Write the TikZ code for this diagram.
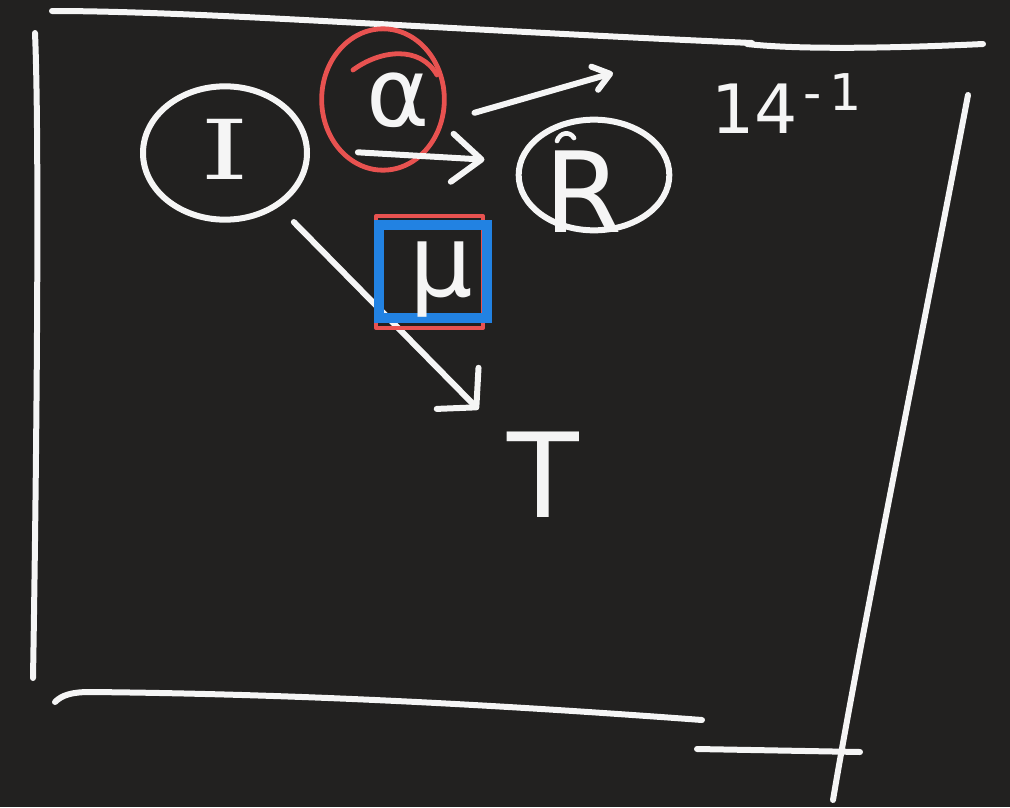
\documentclass[tikz,border=0pt]{standalone}
\usepackage{graphicx}
\usepackage{fontspec}
\setmainfont{DejaVu Sans}
\newfontfamily\serifhand{DejaVu Serif}
\usetikzlibrary{shapes.geometric,arrows.meta}
\definecolor{bg}{RGB}{34,33,32}
\definecolor{chalk}{RGB}{245,245,245}
\definecolor{penred}{RGB}{232,82,80}
\definecolor{penblue}{RGB}{34,130,226}
\newcommand\shifted[3]{\raisebox{#2}[0pt][0pt]{\makebox[0pt]{\hspace*{#1}\hspace*{#1}#3}}}
\begin{document}
\begin{tikzpicture}[x=0.75pt,y=-0.75pt,
  stroke/.style={draw=chalk, line width=4.5pt, line cap=round, line join=round},
  bubble/.style={ellipse, draw=chalk, line width=4.5pt, inner sep=0pt, text=chalk},
  redpen/.style={draw=penred, line width=3.6pt, line cap=round, line join=round}]
\fill[bg] (0,0) rectangle (1010,807);
\useasboundingbox (0,0) rectangle (1010,807);
% frame
\draw[stroke] (52,11) .. controls (200,11) and (450,30) .. (752,43);
\draw[stroke] (747,44) .. controls (800,50) and (900,48) .. (983,44);
\draw[stroke] (35,33) .. controls (40,150) and (36,500) .. (33,678);
\draw[stroke] (55,702) .. controls (62,695) and (72,692) .. (90,692) .. controls (300,694) and (500,705) .. (702,720);
\draw[stroke] (968,95) .. controls (925,320) and (860,640) .. (833,800);
\draw[stroke] (697,749) -- (860,752);
% nodes
\node[bubble, minimum width=123pt, minimum height=100pt] (I) at (225,153)
  {\fontsize{62}{62}\selectfont\serifhand\shifted{0pt}{-20pt}{\scalebox{1.5}[1]{I}}};
\node[bubble, draw=penred, line width=3.6pt, minimum width=92pt, minimum height=106pt] (alpha) at (383,99.5)
  {\fontsize{72}{72}\selectfont\shifted{11.6pt}{-20.6pt}{α}};
\draw[redpen] (353,70) .. controls (380,50) and (420,45) .. (437,75);
\node[bubble, minimum width=113pt, minimum height=83pt] (R) at (594,175)
  {\fontsize{84}{84}\selectfont\shifted{-8.25pt}{-42.75pt}{R}};
\draw[stroke, line width=3.5pt] (557,141) .. controls (560,132) and (570,131) .. (574,138);
\node[text=chalk, inner sep=0pt] (T) at (543,475)
  {\fontsize{88}{88}\selectfont\shifted{0pt}{-31.5pt}{T}};
\node[text=chalk, anchor=base west, inner sep=0pt] (k) at (711,133)
  {\fontsize{51}{51}\selectfont 14\kern4pt\raisebox{17pt}{\fontsize{38}{38}\selectfont -\kern6pt 1}};
\coordinate (q) at (613,73);
% connectors
\draw[stroke, shorten <=16pt, shorten >=69pt, -{Straight Barb[round, length=20pt, width=44pt]}] (I.-45) -- (T.center);
\draw[stroke, shorten <=15pt, shorten >=25pt, -{Straight Barb[round, length=22pt, width=36pt]}] (alpha.south west) -- (R.170);
\draw[stroke, shorten <=24pt, -{Straight Barb[round, length=12pt, width=18pt]}] (alpha.-20) -- (q);
% mu box
\draw[redpen, line width=3pt] (376,216) rectangle (483,328);
\node[draw=penblue, line width=7.5pt, minimum width=81pt, minimum height=69.75pt, inner sep=0pt, text=chalk] (mu) at (433,271.5)
  {\fontsize{75}{75}\selectfont\shifted{6.4pt}{-19pt}{μ}};
\end{tikzpicture}
\end{document}
